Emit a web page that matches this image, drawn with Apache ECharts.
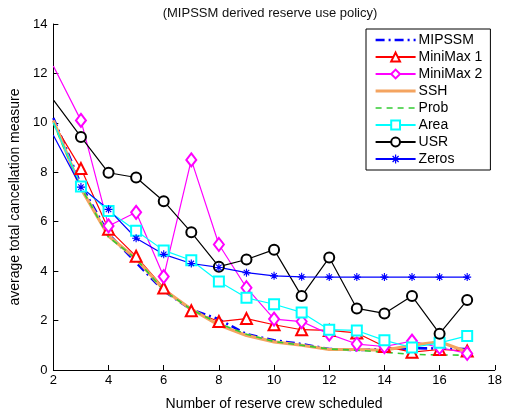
<!DOCTYPE html>
<html>
<head>
<meta charset="utf-8">
<script src="https://cdn.jsdelivr.net/npm/echarts@6/dist/echarts.min.js"></script>
<style>
  html, body { margin: 0; padding: 0; background: #fff; }
  #main { width: 505px; height: 416px; }
</style>
</head>
<body>
<div id="main"></div>
<script>
// number of reserve crew (x)
const crew = [2, 3, 4, 5, 6, 7, 8, 9, 10, 11, 12, 13, 14, 15, 16, 17]
const xTicks = [2, 4, 6, 8, 10, 12, 14, 16, 18]
const yTicks = [0, 2, 4, 6, 8, 10, 12, 14]

const mipssm   = [10.2, 7.5, 5.5, 4.35, 3.2, 2.45, 2.05, 1.45, 1.2, 1.05, 0.85, 0.8, 0.85, 0.88, 0.87, 0.85]
const minimax1 = [10.0, 8.15, 5.7, 4.6, 3.32, 2.4, 1.96, 2.08, 1.83, 1.63, 1.6, 1.5, 0.95, 0.72, 0.83, 0.77]
const minimax2 = [12.3, 10.1, 5.83, 6.38, 3.78, 8.5, 5.08, 3.33, 2.06, 1.96, 1.45, 1.05, 0.95, 1.17, 0.91, 0.67]
const ssh      = [10.1, 7.35, 5.42, 4.5, 3.25, 2.46, 1.82, 1.4, 1.14, 1.0, 0.83, 0.83, 0.8, 1.0, 1.14, 0.74]
const prob     = [10.0, 7.4, 5.38, 4.5, 3.22, 2.45, 1.88, 1.45, 1.15, 1.0, 0.85, 0.8, 0.72, 0.63, 0.61, 0.6]
const area     = [10.0, 7.42, 6.43, 5.63, 4.84, 4.44, 3.58, 2.92, 2.66, 2.33, 1.63, 1.6, 1.2, 0.91, 1.1, 1.38]
const usr      = [10.93, 9.43, 7.98, 7.79, 6.83, 5.57, 4.18, 4.47, 4.87, 2.99, 4.55, 2.49, 2.29, 2.99, 1.47, 2.83]
const zeros    = [9.5, 7.4, 6.5, 5.33, 4.68, 4.31, 4.15, 3.94, 3.81, 3.77, 3.76, 3.76, 3.76, 3.76, 3.76, 3.76]

// matlab style '*' marker
const starPath = 'path://M-0.7,-5L0.7,-5L0.7,-0.7L5,-0.7L5,0.7L0.7,0.7L0.7,5L-0.7,5L-0.7,0.7L-5,0.7L-5,-0.7L-0.7,-0.7Z' +
  'M-3.9,-2.9L-2.9,-3.9L3.9,2.9L2.9,3.9Z M2.9,-3.9L3.9,-2.9L-2.9,3.9L-3.9,2.9Z'

// first point (x=2) drawn without marker, like the clipped original
function toData(vals) {
  return vals.map((v, i) => i === 0 ? { value: [crew[i], v], symbol: 'none' } : [crew[i], v])
}

function mk(name, vals, color, opts) {
  return Object.assign({
    name: name,
    type: 'line',
    data: toData(vals),
    symbolSize: 9,
    color: color,
    lineStyle: { color: color, width: 1.2 },
    itemStyle: { color: color, borderColor: color, borderWidth: 1.2 },
    animation: false
  }, opts)
}

// plain line: invisible marker so the legend shows only the line
function plain(color, width, type) {
  return {
    symbol: 'rect', showSymbol: false,
    lineStyle: { color: color, width: width, type: type || 'solid' },
    itemStyle: { color: 'rgba(0,0,0,0)', borderColor: 'rgba(0,0,0,0)', borderWidth: 0 }
  }
}

var myChart = echarts.init(document.getElementById('main'))

var series = [
  mk('MIPSSM', mipssm, '#0000ff', plain('#0000ff', 2.6, [9, 4, 2, 4])),
  mk('MiniMax 1', minimax1, '#ff0000', { symbol: 'emptyTriangle', symbolSize: 11 }),
  mk('MiniMax 2', minimax2, '#ff00ff', { symbol: 'emptyDiamond', symbolSize: [10, 13] }),
  mk('SSH', ssh, '#f4a460', plain('#f4a460', 3.2)),
  mk('Prob', prob, '#33cc33', plain('#33cc33', 1.6, [6, 5])),
  mk('Area', area, '#00ffff', { symbol: 'emptyRect', symbolSize: 10 }),
  mk('USR', usr, '#000000', { symbol: 'emptyCircle', symbolSize: 10 }),
  mk('Zeros', zeros, '#0000ff', { symbol: starPath, symbolSize: 8, itemStyle: { color: '#0000ff' } })
]

var legendData = series.map(s => {
  if (s.showSymbol === false) {
    return { name: s.name, lineStyle: { width: s.lineStyle.width, type: s.lineStyle.type } }
  }
  return s.name
})

var option = {
  backgroundColor: '#fff',
  textStyle: { fontFamily: 'Liberation Sans, Arial, sans-serif', color: '#000' },
  title: {
    text: '(MIPSSM derived reserve use policy)',
    left: 265, top: 2, textAlign: 'center',
    textStyle: { fontSize: 13, fontWeight: 'normal', color: '#111', fontFamily: 'Liberation Sans, Arial, sans-serif' }
  },
  grid: { left: 39, right: 8, top: 24, bottom: 39 },
  legend: {
    orient: 'vertical',
    left: 366, top: 29,
    itemWidth: 40, itemHeight: 11, itemGap: 3,
    padding: [4, 8, 4, 8],
    borderColor: '#000', borderWidth: 1, backgroundColor: '#fff',
    textStyle: { fontSize: 14, color: '#000', padding: [0, 0, 0, -2] },
    data: legendData
  },
  xAxis: {
    type: 'value', min: 2, max: 18, interval: 2,
    name: 'Number of reserve crew scheduled',
    nameLocation: 'middle', nameGap: 27,
    nameTextStyle: { fontSize: 14, color: '#000' },
    axisLine: { lineStyle: { color: '#000', width: 1 } },
    axisTick: { inside: true, length: 5, lineStyle: { color: '#000' } },
    axisLabel: { fontSize: 13, color: '#000', margin: 4, formatter: v => xTicks.includes(v) ? v : '' },
    splitLine: { show: false }
  },
  yAxis: {
    type: 'value', min: 0, max: 14, interval: 2,
    name: 'average total cancellation measure',
    nameLocation: 'middle', nameGap: 26,
    nameTextStyle: { fontSize: 14, color: '#000' },
    axisLine: { show: true, lineStyle: { color: '#000', width: 1 } },
    axisTick: { show: true, inside: true, length: 5, lineStyle: { color: '#000' } },
    axisLabel: { fontSize: 13, color: '#000', margin: 6, formatter: v => yTicks.includes(v) ? v : '' },
    splitLine: { show: false }
  },
  series: series
}

myChart.setOption(option)
</script>
</body>
</html>
